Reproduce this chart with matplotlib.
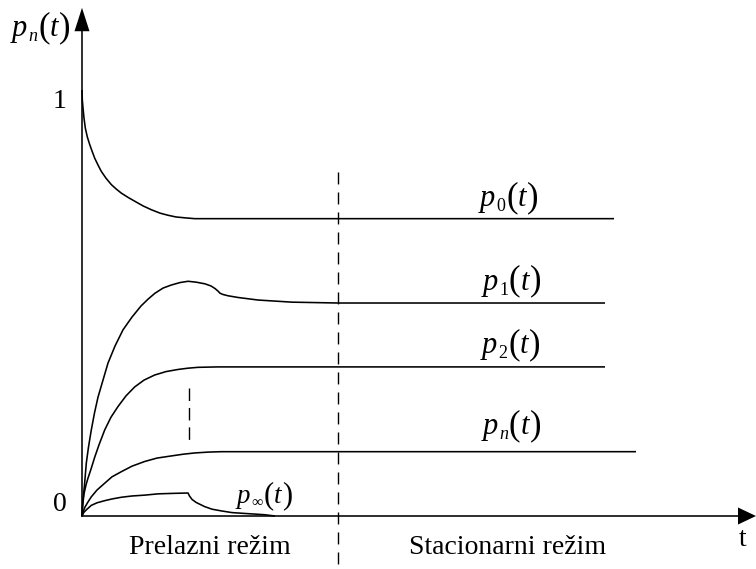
import matplotlib
matplotlib.use("Agg")
import matplotlib.pyplot as plt
from matplotlib.patches import FancyArrow

plt.rcParams['lines.scale_dashes'] = False
plt.rcParams['font.family'] = ['Liberation Serif', 'DejaVu Serif']

# ---- data (t in arbitrary time units, p = probability) ----
t_p0 = [0.0, 0.003, 0.01, 0.02, 0.033, 0.053, 0.077, 0.10, 0.127, 0.16, 0.193, 0.24, 0.293,
        0.34, 0.393, 0.46, 0.527, 0.61, 0.693, 0.78, 0.86, 0.94, 1.027, 1.127, 5.32]
p_p0 = [1.0, 0.977, 0.958, 0.934, 0.911, 0.890, 0.872, 0.857, 0.840, 0.824, 0.809, 0.793,
        0.778, 0.768, 0.758, 0.748, 0.739, 0.728, 0.719, 0.711, 0.706, 0.702, 0.700, 0.698,
        0.698]

t_p1 = [0.0, 0.01, 0.025, 0.043, 0.065, 0.093, 0.125, 0.16, 0.21, 0.26, 0.33, 0.41, 0.50,
        0.59, 0.66, 0.73, 0.81, 0.89, 0.98, 1.06, 1.14, 1.23, 1.29, 1.33, 1.36, 1.38, 1.41,
        1.46, 1.56, 1.76, 2.10, 2.56, 5.23]
p_p1 = [0.0, 0.038, 0.073, 0.124, 0.162, 0.202, 0.242, 0.279, 0.319, 0.359, 0.399, 0.437,
        0.467, 0.493, 0.509, 0.523, 0.535, 0.542, 0.548, 0.551, 0.549, 0.545, 0.540, 0.534,
        0.528, 0.523, 0.520, 0.517, 0.513, 0.507, 0.502, 0.500, 0.500]

t_p2 = [0.0, 0.007, 0.02, 0.04, 0.06, 0.09, 0.127, 0.17, 0.227, 0.29, 0.36, 0.44, 0.527,
        0.62, 0.727, 0.84, 0.96, 1.06, 1.16, 1.36, 5.23]
p_p2 = [0.0, 0.026, 0.052, 0.073, 0.089, 0.110, 0.138, 0.167, 0.202, 0.232, 0.257, 0.282,
        0.303, 0.319, 0.331, 0.339, 0.344, 0.347, 0.349, 0.350, 0.350]

t_pn = [0.0, 0.01, 0.03, 0.06, 0.093, 0.15, 0.227, 0.30, 0.393, 0.50, 0.627, 0.75, 0.893,
        1.01, 1.127, 1.26, 1.393, 1.627, 5.54]
p_pn = [0.0, 0.009, 0.021, 0.033, 0.045, 0.061, 0.077, 0.092, 0.104, 0.117, 0.128, 0.136,
        0.141, 0.145, 0.148, 0.150, 0.151, 0.151, 0.151]

t_pinf = [0.0, 0.02, 0.05, 0.093, 0.15, 0.227, 0.30, 0.393, 0.50, 0.627, 0.76, 0.893, 1.06,
          1.075, 1.10, 1.14, 1.227, 1.30, 1.393, 1.50, 1.627, 1.827, 1.93]
p_pinf = [0.0, 0.009, 0.016, 0.025, 0.031, 0.036, 0.040, 0.044, 0.047, 0.049, 0.052, 0.053,
          0.054, 0.047, 0.039, 0.032, 0.022, 0.016, 0.012, 0.008, 0.006, 0.003, 0.0]

curve_subs = ['0', '1', '2', 'n', '∞']
label_t = [3.98, 4.01, 4.00, 4.01, 1.55]      # left edge of label
label_p = [0.728, 0.531, 0.383, 0.192, 0.031]  # baseline of label
label_scale = [1.0, 1.0, 1.0, 1.0, 0.88]

t_split = 2.555          # boundary between transient and stationary regime
t_mark = 1.065           # small marker in transient regime
region_labels = ['Prelazni režim', 'Stacionarni režim']
region_t = [1.28, 4.26]

fig = plt.figure(figsize=(7.56, 5.69), dpi=100)
ax = fig.add_axes([0, 0, 1, 1])
ax.set_xlim(-0.82, 6.74)
ax.set_ylim(-0.1244, 1.2113)
ax.axis('off')

lw = 1.15
for t, p in [(t_p0, p_p0), (t_p1, p_p1), (t_p2, p_p2), (t_pn, p_pn), (t_pinf, p_pinf)]:
    ax.plot(t, p, color='black', lw=lw, solid_capstyle='butt', solid_joinstyle='round')

# dashed separators
ax.plot([t_split, t_split], [0.808, -0.1244], color='black', lw=1.0,
        linestyle=(0, (8.6, 5.8)))
ax.plot([t_mark, t_mark], [0.300, 0.176], color='black', lw=1.0,
        linestyle=(0, (9.0, 5.0)))

# axes with arrowheads
ax.plot([0, 6.58], [0, 0], color='black', lw=1.15)
ax.plot([0, 0], [0, 1.15], color='black', lw=1.15)
ax.add_patch(FancyArrow(6.55, 0, 0.19, 0, width=0, head_width=0.040, head_length=0.18,
                        length_includes_head=True, color='black', lw=0))
ax.add_patch(FancyArrow(0, 1.138, 0, 0.055, width=0, head_width=0.15, head_length=0.055,
                        length_includes_head=True, color='black', lw=0))


def func_label(x, y, sub, s=1.0):
    """Draw p_sub(t) in Times-like style: italic p, small subscript, tall parentheses."""
    px = 0.72 * s  # pixel -> points
    sub_w = 13 if sub == '∞' else 9
    parts = [
        ('p', 0, 0, 22, 'italic'),
        (sub, 16, -5, 13, 'italic' if sub == 'n' else 'normal'),
        ('(', 16 + sub_w + 1, 0, 25, 'normal'),
        ('t', 16 + sub_w + 13, 0, 22, 'italic'),
        (')', 16 + sub_w + 22, 0, 25, 'normal'),
    ]
    for txt, dx, dy, size, style in parts:
        ax.annotate(txt, (x, y), xytext=(dx * px, dy * px), textcoords='offset points',
                    fontsize=size * s, fontstyle=style, ha='left', va='baseline')


func_label(-0.70, 1.127, 'n')
for sub, tx, py, sc in zip(curve_subs, label_t, label_p, label_scale):
    func_label(tx, py, sub, sc)

fs_txt = 20
ax.text(-0.22, 0.974, '1', fontsize=fs_txt, ha='center', va='center')
ax.text(-0.22, 0.026, '0', fontsize=fs_txt, ha='center', va='center')
ax.text(6.61, -0.056, 't', fontsize=fs_txt, ha='center', va='center')

for lab, tx in zip(region_labels, region_t):
    ax.text(tx, -0.073, lab, fontsize=fs_txt, ha='center', va='center')

fig.savefig('out.png', dpi=100)
